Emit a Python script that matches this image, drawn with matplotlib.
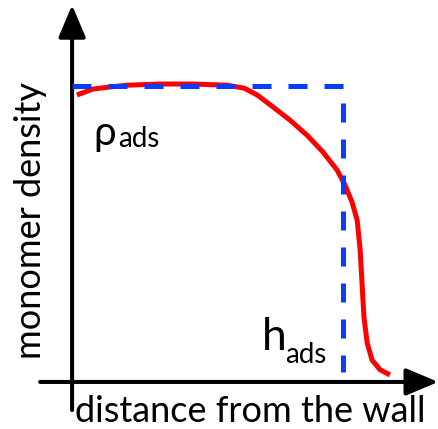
import numpy as np
import matplotlib
matplotlib.use("Agg")
import matplotlib.pyplot as plt

plt.rcParams['font.family'] = ['Lato', 'DejaVu Sans']

# density profile (distance in units of h_ads, density in units of rho_ads)
dist = [0.018, 0.077, 0.140, 0.203, 0.325, 0.446, 0.572, 0.635, 0.683, 0.742, 0.804,
        0.867, 0.926, 0.978, 1.007, 1.033, 1.052, 1.063, 1.070, 1.077, 1.089, 1.107,
        1.137, 1.173]
density = [0.970, 0.990, 0.997, 1.003, 1.007, 1.007, 1.003, 0.993, 0.970, 0.929, 0.885,
           0.834, 0.777, 0.716, 0.666, 0.608, 0.547, 0.446, 0.334, 0.220, 0.132, 0.074,
           0.041, 0.024]

# step profile: rho_ads up to h_ads
step_x = [0.0, 1.0, 1.0]
step_y = [1.0, 1.0, 0.034]

xlabel = "distance from the wall"
ylabel = "monomer density"

fig = plt.figure(figsize=(4.39, 4.29), dpi=100)
ax = fig.add_axes([0, 0, 1, 1])
ax.set_xlim(-0.266, 1.354)
ax.set_ylim(-0.159, 1.291)
ax.axis('off')

# axes arrows
arrow = dict(arrowstyle='-|>,head_length=0.9,head_width=0.38', lw=2.9, color='black',
             mutation_scale=22, shrinkA=0, shrinkB=0)
ax.annotate('', xy=(0, 1.274), xytext=(0, -0.095), arrowprops=arrow)
ax.annotate('', xy=(1.351, 0), xytext=(-0.118, 0), arrowprops=arrow)

ax.plot(dist, density, color='#ff0000', lw=3.6, solid_capstyle='butt',
        solid_joinstyle='round', zorder=3)
ax.plot(step_x, step_y, color='#0a3cff', lw=3.6, dashes=(3.8, 3.4), zorder=4)

ax.text(-0.155, 0.547, ylabel, rotation=90, ha='center', va='center', fontsize=26)
ax.text(0.657, -0.135, xlabel, ha='center', va='baseline', fontsize=26)

ax.text(0.078, 0.80, 'ρ', ha='left', va='baseline', fontsize=29)
ax.text(0.17, 0.794, 'ads', ha='left', va='baseline', fontsize=20)
ax.text(0.70, 0.108, 'h', ha='left', va='baseline', fontsize=32)
ax.text(0.785, 0.064, 'ads', ha='left', va='baseline', fontsize=20)

fig.savefig('out.png', dpi=100)
